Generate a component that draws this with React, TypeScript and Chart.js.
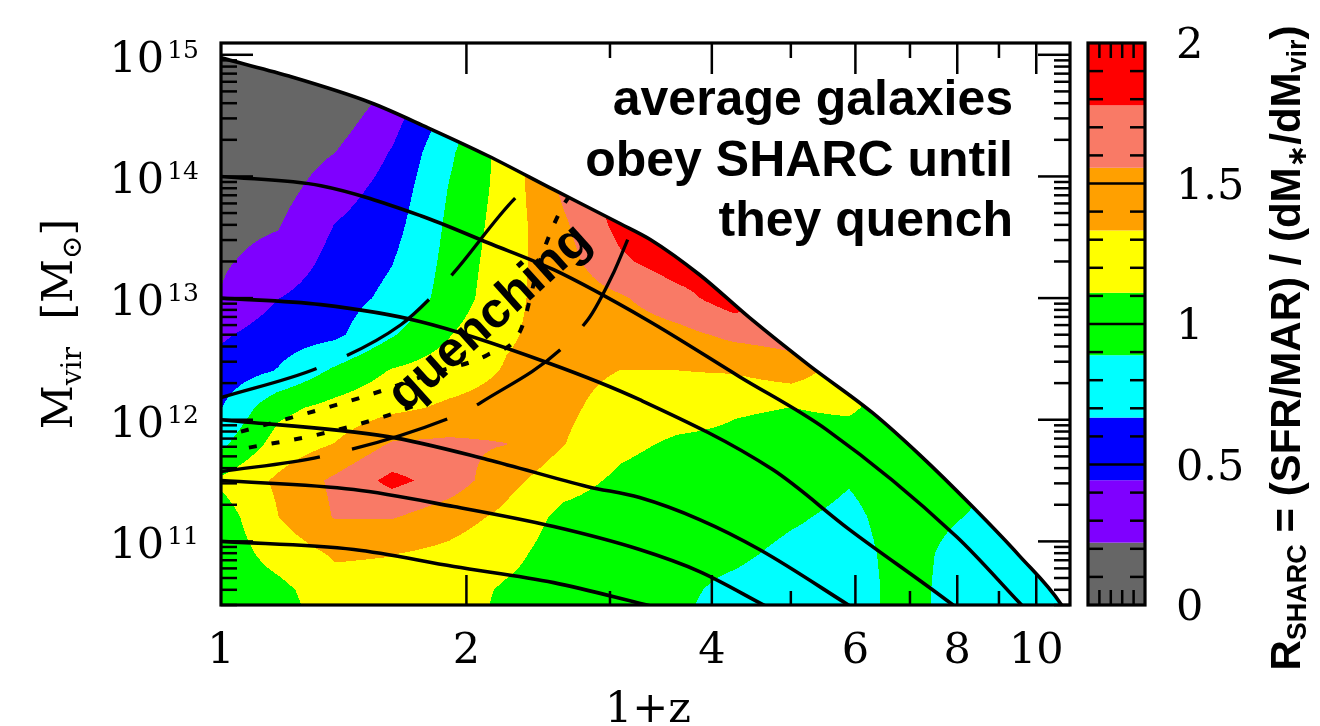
import React, { useEffect, useRef } from "react";
import { Chart, registerables } from "chart.js";

Chart.register(...registerables);

// Axis ranges (1+z horizontally, Mvir vertically, both logarithmic)
const X_MIN = 1;
const X_MAX = 11;
const Y_MIN = 3.0e10;
const Y_MAX = 1.25e15;

// Gridded R_SHARC field: columns at these 1+z values, rows at these log10(Mvir)
const zNodes = [1, 1.175, 1.38, 1.622, 1.905, 2.239, 2.63, 3.09, 3.631, 4.266, 5.012, 5.888, 6.918, 8.128, 9.55, 11.22];
const logMNodes = [15.1, 14.8, 14.5, 14.2, 13.9, 13.6, 13.3, 13.0, 12.7, 12.4, 12.1, 11.8, 11.5, 11.2, 10.9, 10.6, 10.3];
const rSharcGrid = [
  [0.05, 0.05, 0.02, 0.20, 0.75, 1.20, 1.60, 1.90, 1.90, 1.90, 1.65, 1.20, 1.00, 0.95, 0.80, 0.80],
  [0.07, 0.05, 0.02, 0.20, 0.75, 1.20, 1.60, 1.90, 1.90, 1.90, 1.65, 1.20, 1.00, 0.95, 0.80, 0.80],
  [0.09, 0.05, 0.10, 0.35, 0.75, 1.20, 1.60, 1.90, 1.90, 1.90, 1.65, 1.20, 1.00, 0.95, 0.80, 0.80],
  [0.11, 0.09, 0.22, 0.46, 0.85, 1.20, 1.60, 1.90, 1.90, 1.90, 1.65, 1.20, 1.00, 0.95, 0.80, 0.80],
  [0.14, 0.14, 0.34, 0.53, 0.90, 1.20, 1.60, 1.90, 1.90, 1.90, 1.65, 1.20, 1.00, 0.95, 0.80, 0.80],
  [0.17, 0.21, 0.45, 0.59, 0.93, 1.22, 1.52, 1.85, 1.90, 1.90, 1.65, 1.20, 1.00, 0.95, 0.80, 0.80],
  [0.20, 0.29, 0.52, 0.66, 0.95, 1.25, 1.47, 1.74, 1.90, 1.90, 1.65, 1.20, 1.00, 0.95, 0.80, 0.80],
  [0.23, 0.44, 0.57, 0.72, 0.97, 1.28, 1.43, 1.53, 1.70, 1.90, 1.65, 1.20, 1.00, 0.95, 0.80, 0.80],
  [0.41, 0.56, 0.62, 0.87, 1.10, 1.31, 1.41, 1.43, 1.49, 1.61, 1.65, 1.20, 1.00, 0.95, 0.80, 0.80],
  [0.54, 0.68, 0.93, 1.13, 1.22, 1.35, 1.40, 1.33, 1.33, 1.35, 1.45, 1.20, 1.00, 0.95, 0.80, 0.80],
  [0.66, 1.05, 1.18, 1.28, 1.37, 1.42, 1.38, 1.24, 1.20, 1.13, 1.11, 1.14, 1.00, 0.95, 0.80, 0.80],
  [0.84, 1.20, 1.34, 1.58, 1.60, 1.56, 1.34, 1.16, 1.08, 1.07, 1.04, 1.02, 1.00, 0.95, 0.80, 0.80],
  [1.15, 1.37, 1.60, 1.84, 1.68, 1.40, 1.20, 1.07, 1.00, 1.02, 0.98, 0.90, 0.98, 0.95, 0.80, 0.80],
  [1.00, 1.33, 1.57, 1.57, 1.43, 1.28, 1.05, 1.00, 0.97, 0.97, 0.91, 0.85, 0.97, 0.89, 0.80, 0.80],
  [0.98, 1.20, 1.36, 1.34, 1.28, 1.18, 1.00, 0.97, 0.94, 0.92, 0.85, 0.82, 0.96, 0.82, 0.80, 0.80],
  [0.96, 1.05, 1.25, 1.25, 1.22, 1.08, 1.00, 0.96, 0.92, 0.85, 0.80, 0.80, 0.96, 0.80, 0.80, 0.80],
  [0.95, 1.00, 1.20, 1.20, 1.20, 1.05, 1.00, 0.95, 0.90, 0.82, 0.78, 0.80, 0.96, 0.80, 0.80, 0.80],
];

// Contour levels and their fill colours
const rLevels = [0, 0.222, 0.444, 0.667, 0.889, 1.111, 1.333, 1.556, 1.778, 2.0];
const rColors = ["#666666", "#7f00ff", "#0000ff", "#00ffff", "#00ff00", "#ffff00", "#ffa000", "#f97a66", "#ff0000"];

// Tick labels
const colorbarLabels = ["0", "0.5", "1", "1.5", "2"];
const colorbarLabelValues = [0, 0.5, 1, 1.5, 2];
const xLabelValues = [1, 2, 4, 6, 8, 10];
const xMajorTicks = [2, 4, 6, 8, 10];
const xMinorTicks = [3, 5, 7, 9];
const yLabelExponents = [11, 12, 13, 14, 15];

// Upper envelope: the most massive halo track (1+z, log10 Mvir)
const envZ = [1.0, 1.208, 1.527, 1.794, 2.125, 2.559, 3.09, 3.365, 3.864, 4.449, 5.27, 6.295, 7.19, 8.35, 9.53, 10.73, 11.3];
const envLogM = [14.975, 14.827, 14.606, 14.4, 14.17, 13.891, 13.611, 13.48, 13.192, 12.839, 12.445, 12.058, 11.713, 11.286, 10.883, 10.481, 10.2];

// Mean mass-growth tracks of haloes with the given z=0 masses
const track14Z = [1.0, 1.326, 1.758, 2.125, 2.559, 3.327, 4.325, 5.53, 7.98, 9.53, 10.16];
const track14LogM = [14.0, 13.924, 13.677, 13.455, 13.233, 12.822, 12.354, 11.919, 11.04, 10.497, 10.3];
const track13Z = [1.0, 1.326, 1.758, 2.516, 3.262, 4.75, 5.9, 7.89, 8.6];
const track13LogM = [13.0, 12.946, 12.806, 12.469, 12.165, 11.59, 11.097, 10.481, 10.28];
const track12Z = [1.0, 1.602, 2.125, 2.818, 3.262, 3.864, 4.576, 5.87, 6.47];
const track12LogM = [12.0, 11.861, 11.672, 11.45, 11.36, 11.179, 10.933, 10.481, 10.3];
const track115Z = [1.0, 1.455, 1.93, 2.559, 3.262, 3.864, 4.62, 5.03];
const track115LogM = [11.5, 11.426, 11.286, 11.122, 10.933, 10.752, 10.481, 10.35];
const track11Z = [1.0, 1.455, 1.93, 2.559, 3.31, 3.71];
const track11LogM = [11.0, 10.933, 10.793, 10.661, 10.481, 10.4];

// Quenching boundaries (dashed) and their scatter (dotted)
const quenchAZ = [1.0, 1.326, 1.913, 2.083, 2.818, 3.031, 3.154];
const quenchALogM = [11.574, 11.697, 12.018, 12.141, 12.822, 13.209, 13.48];
const quenchBZ = [1.0, 1.326, 1.662, 1.824, 1.93, 2.332, 2.4];
const quenchBLogM = [12.182, 12.436, 12.781, 13.028, 13.209, 13.866, 13.92];
const scatterCZ = [1.058, 1.497, 1.824, 2.125, 2.332, 2.46, 2.611, 2.692];
const scatterCLogM = [11.902, 12.19, 12.387, 12.535, 12.74, 13.299, 13.726, 13.866];
const scatterDZ = [1.082, 1.315, 1.584, 1.753];
const scatterDLogM = [11.771, 11.878, 12.025, 12.132];

const SERIF = "'DejaVu Serif', 'Liberation Serif', serif";
const SANS = "'Liberation Sans', 'DejaVu Sans', Arial, sans-serif";

function toPoints(zs: number[], logMs: number[]) {
  return zs.map((z, i) => ({ x: z, y: Math.pow(10, logMs[i]) }));
}

function hexToRgb(h: string): [number, number, number] {
  const n = parseInt(h.slice(1), 16);
  return [(n >> 16) & 255, (n >> 8) & 255, n & 255];
}

function clamp01(v: number) {
  return Math.min(1, Math.max(0, v));
}

// Paints the gridded field, bilinearly interpolated in log space and binned into levels
const fieldPlugin = {
  id: "sharcField",
  beforeDatasetsDraw(chart: any) {
    const { ctx, chartArea: a, scales } = chart;
    const xs = scales.x;
    const ys = scales.y;
    const w = Math.ceil(a.right - a.left);
    const h = Math.ceil(a.bottom - a.top);
    const off = document.createElement("canvas");
    off.width = w;
    off.height = h;
    const octx = off.getContext("2d")!;
    const img = octx.createImageData(w, h);
    const lu = zNodes.map((z) => Math.log10(z));
    const colJ = new Int32Array(w);
    const colT = new Float64Array(w);
    for (let i = 0; i < w; i++) {
      const u = Math.log10(xs.getValueForPixel(a.left + i + 0.5));
      let j = 0;
      while (j < lu.length - 2 && u > lu[j + 1]) j++;
      colJ[i] = j;
      colT[i] = clamp01((u - lu[j]) / (lu[j + 1] - lu[j]));
    }
    const rowR = new Int32Array(h);
    const rowS = new Float64Array(h);
    for (let k = 0; k < h; k++) {
      const v = Math.log10(ys.getValueForPixel(a.top + k + 0.5));
      let r = 0;
      while (r < logMNodes.length - 2 && v < logMNodes[r + 1]) r++;
      rowR[k] = r;
      rowS[k] = clamp01((logMNodes[r] - v) / (logMNodes[r] - logMNodes[r + 1]));
    }
    const rgb = rColors.map(hexToRgb);
    const d = img.data;
    for (let k = 0; k < h; k++) {
      const r = rowR[k];
      const s = rowS[k];
      const g0 = rSharcGrid[r];
      const g1 = rSharcGrid[r + 1];
      for (let i = 0; i < w; i++) {
        const j = colJ[i];
        const t = colT[i];
        const top = g0[j] * (1 - t) + g0[j + 1] * t;
        const bot = g1[j] * (1 - t) + g1[j + 1] * t;
        const val = top * (1 - s) + bot * s;
        let idx = 0;
        for (let m = 1; m < rLevels.length - 1; m++) if (val >= rLevels[m]) idx = m;
        const c = rgb[idx];
        const p = (k * w + i) * 4;
        d[p] = c[0];
        d[p + 1] = c[1];
        d[p + 2] = c[2];
        d[p + 3] = 255;
      }
    }
    octx.putImageData(img, 0, 0);
    ctx.save();
    ctx.beginPath();
    ctx.rect(a.left, a.top, a.right - a.left, a.bottom - a.top);
    ctx.clip();
    ctx.drawImage(off, a.left, a.top);
    ctx.restore();
  },
};

function seg(ctx: CanvasRenderingContext2D, x0: number, y0: number, x1: number, y1: number) {
  ctx.beginPath();
  ctx.moveTo(x0, y0);
  ctx.lineTo(x1, y1);
  ctx.stroke();
}

// Inward ticks on all four sides and the plot frame
const framePlugin = {
  id: "frameTicks",
  afterDatasetsDraw(chart: any) {
    const { ctx, chartArea: a, scales } = chart;
    const xs = scales.x;
    const ys = scales.y;
    ctx.save();
    ctx.strokeStyle = "#000";
    ctx.lineWidth = 2.5;
    for (let e = 10; e <= 15; e++) {
      for (let k = 1; k <= 9; k++) {
        const v = k * Math.pow(10, e);
        if (v < Y_MIN || v > Y_MAX) continue;
        const py = ys.getPixelForValue(v);
        const len = k === 1 ? 32 : 16;
        seg(ctx, a.left, py, a.left + len, py);
        seg(ctx, a.right, py, a.right - len, py);
      }
    }
    xMajorTicks.forEach((v) => {
      const px = xs.getPixelForValue(v);
      seg(ctx, px, a.bottom, px, a.bottom - 30);
      seg(ctx, px, a.top, px, a.top + 31);
    });
    xMinorTicks.forEach((v) => {
      const px = xs.getPixelForValue(v);
      seg(ctx, px, a.bottom, px, a.bottom - 14);
      seg(ctx, px, a.top, px, a.top + 15);
    });
    ctx.lineWidth = 3.2;
    ctx.strokeRect(a.left, a.top, a.right - a.left, a.bottom - a.top);
    ctx.restore();
  },
};

type Part = { t: string; sub?: boolean };

function drawParts(
  ctx: CanvasRenderingContext2D,
  parts: Part[],
  big: string,
  small: string,
  subDy: number,
  x: number,
  y: number
) {
  let total = 0;
  const widths = parts.map((p) => {
    ctx.font = p.sub ? small : big;
    const wd = ctx.measureText(p.t).width;
    total += wd;
    return wd;
  });
  let cx = x - total / 2;
  parts.forEach((p, i) => {
    ctx.font = p.sub ? small : big;
    ctx.fillText(p.t, cx, p.sub ? y + subDy : y);
    cx += widths[i];
  });
}

// Axis labels, colour bar and annotations
const labelPlugin = {
  id: "labels",
  afterDraw(chart: any) {
    const { ctx, scales } = chart;
    const xs = scales.x;
    const ys = scales.y;
    const cb = scales.cb;
    ctx.save();
    ctx.fillStyle = "#000";
    ctx.textBaseline = "alphabetic";

    // y tick labels 10^n
    yLabelExponents.forEach((e) => {
      const py = ys.getPixelForValue(Math.pow(10, e));
      ctx.font = `43px ${SERIF}`;
      const wBase = ctx.measureText("10").width;
      ctx.font = `25px ${SERIF}`;
      const wExp = ctx.measureText(String(e)).width;
      const right = 199;
      const x0 = right - wExp - 3 - wBase;
      ctx.textAlign = "left";
      ctx.font = `43px ${SERIF}`;
      ctx.fillText("10", x0, py + 17);
      ctx.font = `25px ${SERIF}`;
      ctx.fillText(String(e), x0 + wBase + 3, py + 3);
    });

    // x tick labels
    ctx.textAlign = "center";
    ctx.font = `43px ${SERIF}`;
    xLabelValues.forEach((v) => {
      ctx.fillText(String(v), xs.getPixelForValue(v), 663);
    });
    ctx.fillText("1+z", 648, 722);

    // y axis title
    ctx.save();
    ctx.translate(72, 324);
    ctx.rotate(-Math.PI / 2);
    ctx.textAlign = "left";
    drawParts(
      ctx,
      [{ t: "M" }, { t: "vir", sub: true }, { t: "  [M" }, { t: "\u2299", sub: true }, { t: "]" }],
      `43px ${SERIF}`,
      `28px ${SERIF}`,
      9,
      0,
      0
    );
    ctx.restore();

    // colour bar
    const bx0 = 1088;
    const bx1 = 1145;
    for (let k = 0; k < rColors.length; k++) {
      const yTop = cb.getPixelForValue(rLevels[k + 1]);
      const yBot = cb.getPixelForValue(rLevels[k]);
      ctx.fillStyle = rColors[k];
      ctx.fillRect(bx0, yTop, bx1 - bx0, yBot - yTop);
    }
    ctx.strokeStyle = "#000";
    ctx.lineWidth = 2.5;
    for (let n = 1; n < 20; n++) {
      const v = n / 10;
      const py = cb.getPixelForValue(v);
      if (n % 5 === 0) {
        seg(ctx, bx0, py, bx1, py);
      } else {
        seg(ctx, bx0, py, bx0 + 15, py);
        seg(ctx, bx1, py, bx1 - 15, py);
      }
    }
    for (let n = 1; n < 5; n++) {
      const px = bx0 + ((bx1 - bx0) * n) / 5;
      seg(ctx, px, cb.top, px, cb.top + 15);
      seg(ctx, px, cb.bottom, px, cb.bottom - 15);
    }
    ctx.lineWidth = 3.2;
    ctx.strokeRect(bx0, cb.top, bx1 - bx0, cb.bottom - cb.top);

    ctx.fillStyle = "#000";
    ctx.textAlign = "left";
    ctx.font = `43px ${SERIF}`;
    colorbarLabelValues.forEach((v, i) => {
      ctx.fillText(colorbarLabels[i], 1176, cb.getPixelForValue(v) + 15);
    });

    // colour bar title
    ctx.save();
    ctx.translate(1300, 348);
    ctx.rotate(-Math.PI / 2);
    drawParts(
      ctx,
      [
        { t: "R" },
        { t: "SHARC", sub: true },
        { t: " = (SFR/MAR) / (dM" },
        { t: "\u2217", sub: true },
        { t: "/dM" },
        { t: "vir", sub: true },
        { t: ")" },
      ],
      `bold 42px ${SANS}`,
      `bold 27px ${SANS}`,
      6,
      0,
      0
    );
    ctx.restore();

    // annotations
    ctx.textAlign = "right";
    ctx.font = `bold 50px ${SANS}`;
    ctx.fillText("average galaxies", 1013, 115);
    ctx.fillText("obey SHARC until", 1013, 176);
    ctx.fillText("they quench", 1013, 236);

    ctx.save();
    ctx.translate(490, 318);
    ctx.rotate((-42 * Math.PI) / 180);
    ctx.textAlign = "center";
    ctx.textBaseline = "middle";
    ctx.font = `bold 50px ${SANS}`;
    ctx.fillText("quenching", 0, 0);
    ctx.restore();

    ctx.restore();
  },
};

function lineSet(zs: number[], ms: number[], extra: any = {}) {
  return {
    data: toPoints(zs, ms),
    showLine: true,
    borderColor: "#000",
    borderWidth: 3.6,
    pointRadius: 0,
    cubicInterpolationMode: "monotone",
    fill: false,
    ...extra,
  };
}

export default function App() {
  const ref = useRef<HTMLCanvasElement>(null);

  useEffect(() => {
    const canvas = ref.current;
    if (!canvas) return;
    const chart = new Chart(canvas, {
      type: "scatter",
      data: {
        datasets: [
          lineSet(envZ, envLogM, { fill: "end", backgroundColor: "#ffffff" }),
          lineSet(track14Z, track14LogM),
          lineSet(track13Z, track13LogM),
          lineSet(track12Z, track12LogM),
          lineSet(track115Z, track115LogM),
          lineSet(track11Z, track11LogM),
          lineSet(quenchAZ, quenchALogM, { borderDash: [100, 33], borderWidth: 3.3 }),
          lineSet(quenchBZ, quenchBLogM, { borderDash: [100, 33], borderWidth: 3.3 }),
          lineSet(scatterCZ, scatterCLogM, { borderDash: [8, 15], borderWidth: 4 }),
          lineSet(scatterDZ, scatterDLogM, { borderDash: [8, 15], borderWidth: 4 }),
        ] as any,
      },
      options: {
        responsive: false,
        maintainAspectRatio: false,
        animation: false,
        events: [],
        layout: { padding: { left: 221, right: 250, top: 43, bottom: 121 } },
        scales: {
          x: { type: "logarithmic", min: X_MIN, max: X_MAX, display: false },
          y: { type: "logarithmic", min: Y_MIN, max: Y_MAX, display: false },
          cb: { type: "linear", axis: "y", position: "right", min: 0, max: 2, display: false },
        } as any,
        plugins: {
          legend: { display: false },
          tooltip: { enabled: false },
        },
      },
      plugins: [fieldPlugin, framePlugin, labelPlugin],
    });
    return () => chart.destroy();
  }, []);

  return (
    <div style={{ position: "absolute", left: 0, top: 0, width: 1320, height: 726, background: "#ffffff" }}>
      <canvas ref={ref} width={1320} height={726} style={{ display: "block", width: 1320, height: 726 }} />
    </div>
  );
}
